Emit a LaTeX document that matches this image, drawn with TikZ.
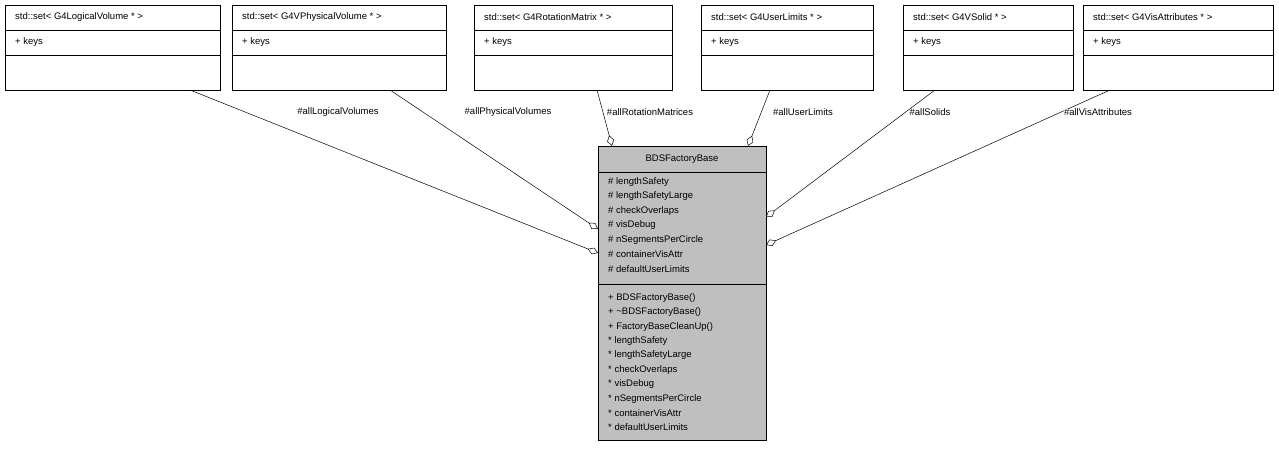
\documentclass[tikz,border=0pt]{standalone}
\usepackage{fontspec}
\setmainfont{Liberation Sans}
\usetikzlibrary{arrows.meta}
\tikzset{
	x=1pt, y=-1pt,
	box/.style={draw, anchor=north west, inner sep=0pt},
	txt/.style={anchor=west, inner sep=0pt, font=\fontsize{9.5}{11}\selectfont},
	lbl/.style={inner sep=0pt, font=\fontsize{9.5}{11}\selectfont},
	agg/.style={{Diamond[open,length=11pt,width=7pt]}-, line width=0.5pt},
	baseline}
\begin{document}
\begin{tikzpicture}
	\useasboundingbox (0,0) rectangle (1279,448);
	
	% top classes: name / left / width / title
	\foreach \n/\x/\w/\t in {
		lv/5/215/{std::set< G4LogicalVolume * >},
		pv/232/214/{std::set< G4VPhysicalVolume * >},
		rm/474/198/{std::set< G4RotationMatrix * >},
		ul/701/172/{std::set< G4UserLimits * >},
		so/903/170/{std::set< G4VSolid * >},
		va/1083/190/{std::set< G4VisAttributes * >}}{
		\node[box, minimum width=\w pt, minimum height=85pt] (\n) at (\x,5) {};
		\draw (\x,30) -- ++(\w,0) (\x,55) -- ++(\w,0);
		\node[txt] (\n t) at (\x+10,17.5) {\t};
		\node[txt] (\n k) at (\x+10,42.5) {+ keys};
	}
	
	% central class
	\node[box, fill=black!25, minimum width=168pt, minimum height=294pt] (base) at (598,146) {};
	\draw (598,172) -- ++(168,0) (598,284) -- ++(168,0);
	\node[lbl] (bt) at (682,159) {BDSFactoryBase};
	\foreach \a [count=\i] in {lengthSafety, lengthSafetyLarge, checkOverlaps, visDebug,
		nSegmentsPerCircle, containerVisAttr, defaultUserLimits}
		\node[txt] (at\i) at (608,167.5+14.5*\i) {\# \a};
	\foreach \m [count=\i] in {+ BDSFactoryBase(), + \textasciitilde BDSFactoryBase(),
		+ FactoryBaseCleanUp(), * lengthSafety, * lengthSafetyLarge, * checkOverlaps,
		* visDebug, * nSegmentsPerCircle, * containerVisAttr, * defaultUserLimits}
		\node[txt] (mt\i) at (608,283.5+14.4*\i) {\m};
	
	% aggregation ends
	\coordinate (clv) at (598,253);
	\coordinate (cpv) at (598,229);
	\coordinate (crm) at (612,146);
	\coordinate (cul) at (748,146);
	\coordinate (cso) at (766,217);
	\coordinate (cva) at (766,245);
	
	\draw[agg] (clv) -- (190,90);
	\draw[agg] (cpv) -- (390,90);
	\draw[agg] (crm) -- (597,90);
	\draw[agg] (cul) -- (770,90);
	\draw[agg] (cso) -- (935,90);
	\draw[agg] (cva) -- (1110,90);
	
	\node[lbl, fill=white] (llv) at (338,112) {\#allLogicalVolumes};
	\node[lbl, fill=white] (lpv) at (508,112) {\#allPhysicalVolumes};
	\node[lbl, fill=white] (lrm) at (650,112) {\#allRotationMatrices};
	\node[lbl, fill=white] (lul) at (803,112) {\#allUserLimits};
	\node[lbl, fill=white] (lso) at (930,112) {\#allSolids};
	\node[lbl, fill=white] (lva) at (1098,112) {\#allVisAttributes};
\end{tikzpicture}
\end{document}
